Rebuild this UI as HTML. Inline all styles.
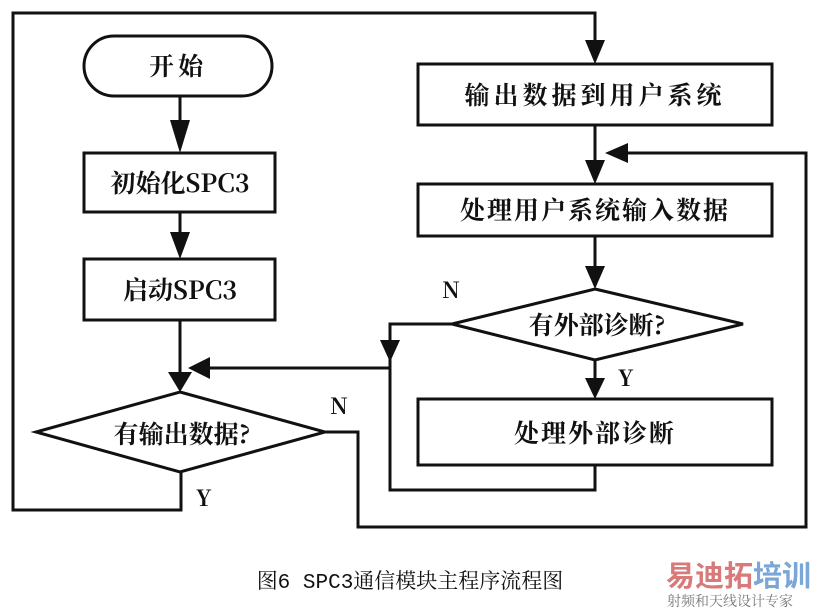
<!DOCTYPE html>
<html><head><meta charset="utf-8"><style>
html,body{margin:0;padding:0;background:#fff;}
svg{display:block;}
text{font-family:"Noto Serif CJK SC","Liberation Serif",serif;fill:#111;}
</style></head><body>
<svg width="821" height="611" viewBox="0 0 821 611" xmlns="http://www.w3.org/2000/svg">
<g stroke="#111" stroke-width="3" fill="none">
<polyline points="181,472 181,510 13,510 13,13 595,13 595,52"/>
<rect x="84" y="36" width="188" height="60" rx="30"/>
<line x1="180" y1="96" x2="180" y2="140"/>
<rect x="84" y="153" width="191" height="59"/>
<line x1="180" y1="212" x2="180" y2="246"/>
<rect x="84" y="259" width="191" height="61"/>
<line x1="180" y1="320" x2="180" y2="380"/>
<polygon points="180,392 325,432 180,472 36,432"/>
<polyline points="325,432 358,432 358,527 806,527 806,153 625,153"/>
<rect x="418" y="64" width="354" height="61"/>
<line x1="595" y1="125" x2="595" y2="170"/>
<rect x="418" y="184" width="354" height="52"/>
<line x1="595" y1="236" x2="595" y2="276"/>
<polygon points="595,289 743,324 595,360 452,324"/>
<line x1="595" y1="360" x2="595" y2="386"/>
<rect x="418" y="399" width="354" height="66"/>
<polyline points="595,465 595,490 390,490 390,324 452,324"/>
<line x1="390" y1="368" x2="200" y2="368"/>
</g>
<g fill="#111">
<polygon points="170,120 190,120 180,153"/>
<polygon points="170,232 190,232 180,259"/>
<polygon points="168,372 192,372 180,392"/>
<polygon points="210,357 210,379 188,368"/>
<polygon points="585,40 605,40 595,64"/>
<polygon points="585,160 605,160 595,184"/>
<polygon points="628,143 628,163 605,153"/>
<polygon points="585,266 605,266 595,289"/>
<polygon points="585,378 605,378 595,399"/>
<polygon points="380,340 400,340 390,362"/>
</g>
<g font-size="25" text-anchor="middle" font-weight="bold">
<text x="178" y="75" letter-spacing="4">开始</text>
<text x="180" y="192">初始化SPC3</text>
<text x="180" y="299">启动SPC3</text>
<text x="182" y="443">有输出数据?</text>
<text x="595" y="104" letter-spacing="4">输出数据到用户系统</text>
<text x="595" y="219" letter-spacing="2">处理用户系统输入数据</text>
<text x="597" y="334">有外部诊断?</text>
<text x="595" y="442" letter-spacing="2">处理外部诊断</text>
</g>
<g font-size="22" font-weight="bold" style='font-family:"Liberation Serif",serif'>
<text x="442" y="298">N</text>
<text x="618" y="386">Y</text>
<text x="330" y="414">N</text>
<text x="196" y="506">Y</text>
</g>
<text x="410" y="588" font-size="21" text-anchor="middle" style='font-family:"Liberation Mono","Noto Serif CJK SC",serif'>图6 SPC3通信模块主程序流程图</text>
<text x="666" y="586" font-size="29" font-weight="bold" style='font-family:"Noto Sans CJK SC",sans-serif;fill:#d87a7a'>易迪拓<tspan style="fill:#7aa6d8">培训</tspan></text>
<text x="667" y="606" font-size="14" style='font-family:"Noto Serif CJK SC",serif;fill:#777'>射频和天线设计专家</text>
</svg>
</body></html>
